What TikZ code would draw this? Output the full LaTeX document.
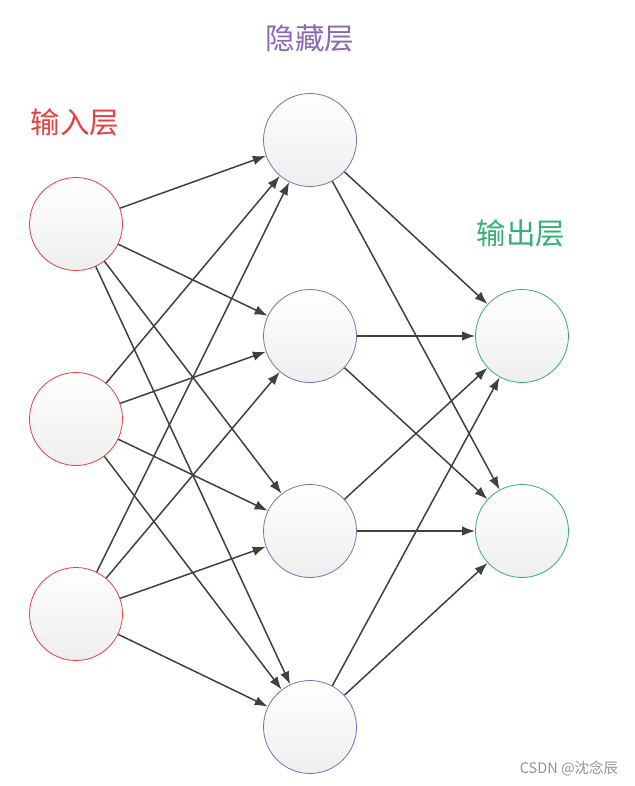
\documentclass[tikz,border=0pt]{standalone}
\usepackage{fontspec}
\newfontfamily\cjk{Noto Sans CJK SC}
\usepackage{xcolor}
\usetikzlibrary{arrows.meta,positioning}
\definecolor{inred}{HTML}{E8403F}
\definecolor{hidpur}{HTML}{8A68B4}
\definecolor{outgrn}{HTML}{33B074}
\definecolor{edgegray}{HTML}{404040}
\tikzset{
  neu/.style={draw, circle, minimum size=93pt, inner sep=0pt, line width=0.8pt,
    top color=white, bottom color=gray!13},
  inp/.style={neu, draw=inred},
  hid/.style={neu, draw=hidpur},
  outp/.style={neu, draw=outgrn},
  lbl/.style={font=\cjk\fontsize{29.5}{32}\selectfont},
  fl/.style={-{Latex[length=13pt,width=9.5pt]}, line width=1.5pt, draw=edgegray},
}

\begin{document}
\begin{tikzpicture}[x=1pt,y=-1pt]
\useasboundingbox (0,0) rectangle (634,786);
% input layer
\node[inp] (i1) at (76,224) {};
\node[inp] (i2) at (76,419) {};
\node[inp] (i3) at (76,614) {};
% hidden layer
\node[hid] (h1) at (310,140) {};
\node[hid] (h2) at (310,336) {};
\node[hid] (h3) at (310,531) {};
\node[hid] (h4) at (310,727) {};
% output layer
\node[outp] (o1) at (522,336) {};
\node[outp] (o2) at (522,531) {};
% layer titles
\node[lbl, text=inred] (ti) at (75,122) {输入层};
\node[lbl, text=hidpur] (th) at (310,38) {隐藏层};
\node[lbl, text=outgrn] (to) at (521,233) {输出层};
% connections
\foreach \i in {1,2,3}
  \foreach \j in {1,2,3,4}
    \draw[fl] (i\i) -- (h\j);
\foreach \j in {1,2,3,4}
  \foreach \k in {1,2}
    \draw[fl] (h\j) -- (o\k);
% watermark
\node[font=\cjk\fontsize{14.5}{16}\selectfont, text=gray!85] (wm) at (569,769) {CSDN @沈念辰};
\end{tikzpicture}
\end{document}
